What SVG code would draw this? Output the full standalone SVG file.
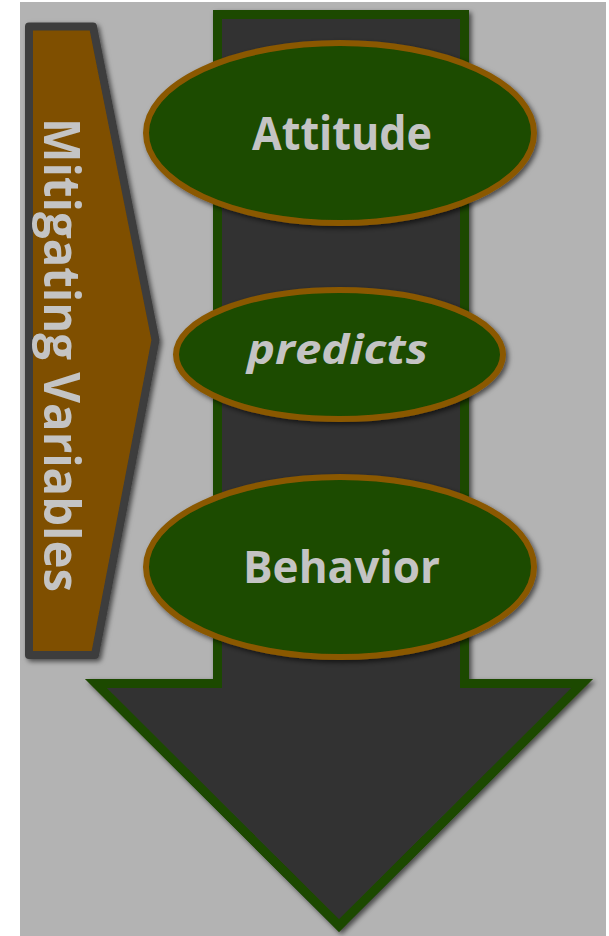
<svg xmlns="http://www.w3.org/2000/svg" width="609" height="936" viewBox="0 0 609 936">
  <style>
    .oval { fill: #1b4b00; stroke: #8a5800; stroke-width: 6; }
    .label { fill: #c4c4c4; font-family: "Open Sans", "DejaVu Sans", sans-serif; font-weight: 700; text-anchor: middle; }
  </style>
  <defs>
    <filter id="shadow" x="-10%" y="-10%" width="125%" height="125%">
      <feDropShadow dx="2.5" dy="2.5" stdDeviation="2.5" flood-color="#000" flood-opacity="0.6"/>
    </filter>
    <clipPath id="arrowClip">
      <path d="M213,10 L469,10 L469,679 L593,679 L339,932 L85,679 L213,679 Z"/>
    </clipPath>
  </defs>

  <!-- backdrop -->
  <rect x="20" y="2" width="586" height="934" fill="#b3b3b3"/>

  <!-- connectors: the big downward arrow -->
  <g id="connectors">
    <g filter="url(#shadow)">
      <path d="M213,10 L469,10 L469,679 L593,679 L339,932 L85,679 L213,679 Z"
            fill="#333333" stroke="#1c4a00" stroke-width="18" clip-path="url(#arrowClip)"/>
    </g>
  </g>

  <!-- side panel -->
  <g id="mitigating">
    <path d="M29,26.5 L93,26.5 L155.5,340 L95,655 L29,655 Z"
          fill="#7f4f00" stroke="#3c3c3c" stroke-width="8" stroke-linejoin="round" filter="url(#shadow)"/>
    <text class="label" transform="translate(44,118) rotate(90)" x="0" y="0"
          style="text-anchor:start; font-size:50px"
          textLength="474" lengthAdjust="spacingAndGlyphs">Mitigating Variables</text>
  </g>

  <g id="attitude">
    <ellipse class="oval" cx="340" cy="133" rx="194" ry="90" filter="url(#shadow)"/>
    <text class="label" x="342" y="150" style="font-size:47px" textLength="180" lengthAdjust="spacingAndGlyphs">Attitude</text>
  </g>

  <g id="predicts">
    <ellipse class="oval" cx="339.5" cy="354.5" rx="163.5" ry="64.5" filter="url(#shadow)"/>
    <text class="label" x="337.5" y="364" style="font-size:42px; font-style:italic" textLength="181" lengthAdjust="spacingAndGlyphs">predicts</text>
  </g>

  <g id="behavior">
    <ellipse class="oval" cx="340" cy="567" rx="194" ry="90" filter="url(#shadow)"/>
    <text class="label" x="341.5" y="583" style="font-size:45px" textLength="197" lengthAdjust="spacingAndGlyphs">Behavior</text>
  </g>
</svg>
